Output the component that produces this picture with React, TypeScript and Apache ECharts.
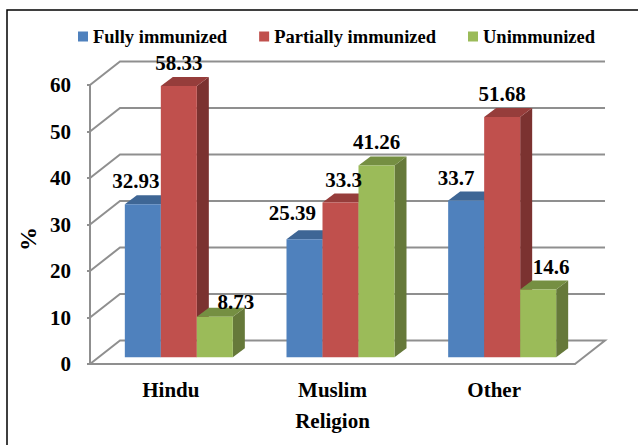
import React, { useEffect, useRef } from "react";
import * as echarts from "echarts";

const categories = ["Hindu", "Muslim", "Other"];
const seriesNames = ["Fully immunized", "Partially immunized", "Unimmunized"];
const fullyImmunized = [32.93, 25.39, 33.7];
const partiallyImmunized = [58.33, 33.3, 51.68];
const unimmunized = [8.73, 41.26, 14.6];
const yTicks = [0, 10, 20, 30, 40, 50, 60];
const axisTitleX = "Religion";
const axisTitleY = "%";

// Hand-placed data-label offsets of the reference [dx, dy] from the top-centre of the bar's front face
const labelNudges = [
  [[-7, -23], [-12, -26], [-10, -23]],
  [[0, -23], [3, -22], [0, -23]],
  [[21, -15], [0, -23], [13, -22]],
];

const FONT = "Liberation Serif";
const GRID_COLOR = "#8f8f8f";
const faces = [
  { front: "#4F81BD", top: "#3E6695", side: "#3A5F8C" },
  { front: "#C0504D", top: "#963D3B", side: "#7B3230" },
  { front: "#9BBB59", top: "#758F42", side: "#66793A" },
];
const WALL_DX = 30;
const WALL_DY = -23.5;
const BAR_DX = 12;
const BAR_DY = -9;
const FLOOR_LIFT = 6.7;
const BAR_BAND_RATIO = 0.2227;
const GROUP_SHIFT = 8;

function wallItem(_: any, api: any) {
  const [x, y] = api.coord([0, api.value(0)]);
  const band = api.size([1, 0])[0];
  const left = x - band / 2;
  const width = band * categories.length;
  const isFloor = api.value(0) === 0;
  const points = [
    [left, y],
    [left + WALL_DX, y + WALL_DY],
    [left + width + WALL_DX, y + WALL_DY],
  ];
  if (isFloor) points.push([left + width, y]);
  return {
    type: "polyline",
    shape: { points },
    style: { stroke: GRID_COLOR, lineWidth: 2, fill: "none" },
  };
}

function barBox(seriesIndex: number, api: any) {
  const cat = api.value(0);
  const val = api.value(1);
  const [cx, yTop0] = api.coord([cat, val]);
  const [, yBase0] = api.coord([cat, 0]);
  const band = api.size([1, 0])[0];
  const w = band * BAR_BAND_RATIO;
  const xl = cx + GROUP_SHIFT + (seriesIndex - 1.5) * w;
  return { cat, val, xl, xr: xl + w, w, yt: yTop0 - FLOOR_LIFT, yb: yBase0 - FLOOR_LIFT };
}

function barRenderer(seriesIndex: number) {
  return (_: any, api: any) => {
    const { xl, xr, w, yt, yb } = barBox(seriesIndex, api);
    const f = faces[seriesIndex];
    return {
      type: "group",
      children: [
        {
          type: "polygon",
          shape: { points: [[xr, yt], [xr + BAR_DX, yt + BAR_DY], [xr + BAR_DX, yb + BAR_DY], [xr, yb]] },
          style: { fill: f.side },
        },
        {
          type: "polygon",
          shape: { points: [[xl, yt], [xl + BAR_DX, yt + BAR_DY], [xr + BAR_DX, yt + BAR_DY], [xr, yt]] },
          style: { fill: f.top },
        },
        {
          type: "rect",
          shape: { x: xl, y: yt, width: w, height: yb - yt },
          style: { fill: f.front },
        },
      ],
    };
  };
}

function labelRenderer(seriesIndex: number) {
  return (_: any, api: any) => {
    const { cat, val, xl, xr, yt } = barBox(seriesIndex, api);
    const [dx, dy] = labelNudges[seriesIndex][cat];
    return {
      type: "text",
      style: {
        x: (xl + xr) / 2 + dx,
        y: yt + dy,
        text: String(val),
        fontFamily: FONT,
        fontWeight: "bold",
        fontSize: 21,
        fill: "#000",
        align: "center",
        verticalAlign: "middle",
      },
    };
  };
}

export default function App() {
  const ref = useRef<HTMLDivElement>(null);
  useEffect(() => {
    const chart = echarts.init(ref.current!, null, { renderer: "svg" });
    const values = [fullyImmunized, partiallyImmunized, unimmunized];
    chart.setOption({
      animation: false,
      backgroundColor: "#fff",
      grid: { left: 90, right: 63, top: 85, bottom: 81 },
      legend: {
        data: seriesNames,
        left: 73,
        top: 22,
        icon: "rect",
        itemWidth: 10,
        itemHeight: 10,
        itemGap: 32,
        textStyle: { fontFamily: FONT, fontWeight: "bold", fontSize: 18.5, color: "#000" },
      },
      xAxis: {
        type: "category",
        data: categories,
        name: axisTitleX,
        nameLocation: "middle",
        nameGap: 46,
        nameTextStyle: { fontFamily: FONT, fontWeight: "bold", fontSize: 21, color: "#000" },
        axisLine: { lineStyle: { color: GRID_COLOR, width: 2 } },
        axisTick: { show: false },
        axisLabel: { fontFamily: FONT, fontWeight: "bold", fontSize: 21, color: "#000", margin: 15 },
        splitLine: { show: false },
      },
      yAxis: {
        type: "value",
        min: 0,
        max: 60,
        interval: 10,
        axisLine: { show: true, lineStyle: { color: GRID_COLOR, width: 2 } },
        axisTick: { show: true, length: 3, lineStyle: { color: GRID_COLOR, width: 2 } },
        axisLabel: { fontFamily: FONT, fontWeight: "bold", fontSize: 21, color: "#000", margin: 19 },
        splitLine: { show: false },
      },
      graphic: [
        {
          type: "polyline",
          silent: true,
          shape: { points: [[7, 445], [7, 10], [638, 10]] },
          style: { stroke: "#000", lineWidth: 1.5, fill: "none" },
        },
        {
          type: "text",
          x: 28,
          y: 239,
          rotation: Math.PI / 2,
          style: {
            text: axisTitleY,
            fontFamily: FONT,
            fontWeight: "bold",
            fontSize: 24,
            fill: "#000",
            align: "center",
            verticalAlign: "middle",
          },
        },
      ],
      series: [
        {
          type: "custom",
          name: "wall",
          silent: true,
          z: 1,
          clip: false,
          renderItem: wallItem,
          encode: { y: 0 },
          data: yTicks.map((t) => [t]),
        },
        ...seriesNames.map((name, i) => ({
          type: "custom",
          name,
          z: 2 + i,
          clip: false,
          itemStyle: { color: faces[i].front },
          renderItem: barRenderer(i),
          encode: { x: 0, y: 1 },
          data: values[i].map((v, c) => [c, v]),
        })),
        ...seriesNames.map((name, i) => ({
          type: "custom",
          name: name + " labels",
          z: 10,
          clip: false,
          silent: true,
          renderItem: labelRenderer(i),
          encode: { x: 0, y: 1 },
          data: values[i].map((v, c) => [c, v]),
        })),
      ],
    });
    return () => chart.dispose();
  }, []);
  return <div ref={ref} style={{ position: "fixed", left: 0, top: 0, width: 638, height: 445 }} />;
}
